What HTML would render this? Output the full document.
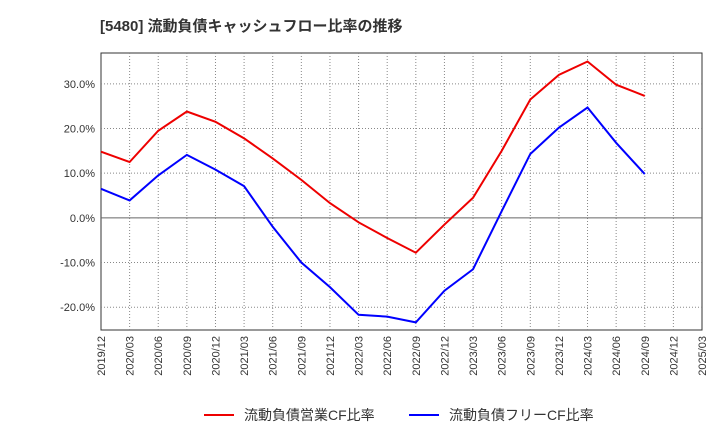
<!DOCTYPE html>
<html><head><meta charset="utf-8"><style>
body{margin:0;background:#fff;font-family:"Liberation Sans","Noto Sans CJK JP",sans-serif;}
svg text{font-family:"Liberation Sans","Noto Sans CJK JP",sans-serif;}
</style></head><body>
<svg id="c" width="720" height="440">
<text x="100" y="31" font-size="15" font-weight="bold" fill="#333">[5480]  流動負債キャッシュフロー比率の推移</text>
<rect x="101" y="53" width="601" height="277" fill="none" stroke="#333"/>
<g id="grid"></g><g id="ticks"></g><g id="series"></g>
<g>
<line x1="204" y1="415" x2="234" y2="415" stroke="#e00" stroke-width="2"/>
<text x="244" y="420" font-size="14" fill="#333">流動負債営業CF比率</text>
<line x1="409" y1="415" x2="439" y2="415" stroke="#00f" stroke-width="2"/>
<text x="449" y="420" font-size="14" fill="#333">流動負債フリーCF比率</text>
</g>
</svg>
<script>
const categories=["2019/12","2020/03","2020/06","2020/09","2020/12","2021/03","2021/06","2021/09","2021/12","2022/03","2022/06","2022/09","2022/12","2023/03","2023/06","2023/09","2023/12","2024/03","2024/06","2024/09","2024/12","2025/03"];
const operatingCF=[14.8,12.5,19.5,23.8,21.5,17.8,13.3,8.5,3.3,-1.0,-4.5,-7.8,-1.5,4.5,15,26.5,32,35,29.8,27.3];
const freeCF=[6.5,3.9,9.5,14.1,10.8,7.1,-2,-10,-15.5,-21.7,-22.1,-23.4,-16.3,-11.5,1.5,14.3,20.2,24.7,16.8,9.8];
const yTicks=[-20,-10,0,10,20,30];
const NS="http://www.w3.org/2000/svg";
const X0=101,X1=702,Y0=53,Y1=330,YMIN=-25.1,YMAX=36.9;
const x=i=>X0+(X1-X0)*i/(categories.length-1);
const y=v=>Y1-(v-YMIN)/(YMAX-YMIN)*(Y1-Y0);
function mk(tag,attrs,parent){const e=document.createElementNS(NS,tag);for(const k in attrs)e.setAttribute(k,attrs[k]);parent.appendChild(e);return e;}
const grid=document.getElementById('grid'),ticks=document.getElementById('ticks'),series=document.getElementById('series');
categories.forEach((c,i)=>{
  if(i>0&&i<categories.length-1){const l=mk('line',{x1:x(i),x2:x(i),y1:Y0,y2:Y1,stroke:'#888','stroke-dasharray':'1,2'},grid);
  
  }
  const t=mk('text',{transform:`translate(${x(i)+4},${Y1+6}) rotate(-90)`,'text-anchor':'end','font-size':'11',fill:'#333'},ticks);
  t.textContent=c;
  
  
});
yTicks.forEach(v=>{
  const l=mk('line',{x1:X0,x2:X1,y1:y(v),y2:y(v),stroke:v===0?'#666':'#888','stroke-dasharray':v===0?'':'1,2'},grid);
  
  
  const t=mk('text',{x:X0-6,y:y(v)+4,'text-anchor':'end','font-size':'11',fill:'#333'},ticks);
  t.textContent=v.toFixed(1)+'%';
  
  
});
function line(arr,color,name){
  const p=mk('polyline',{points:arr.map((v,i)=>x(i)+','+y(v)).join(' '),fill:'none',stroke:color,'stroke-width':2},series);
  
  
}
line(operatingCF,'#e00','operating-cf-line');
line(freeCF,'#00f','free-cf-line');
</script>
</body></html>
